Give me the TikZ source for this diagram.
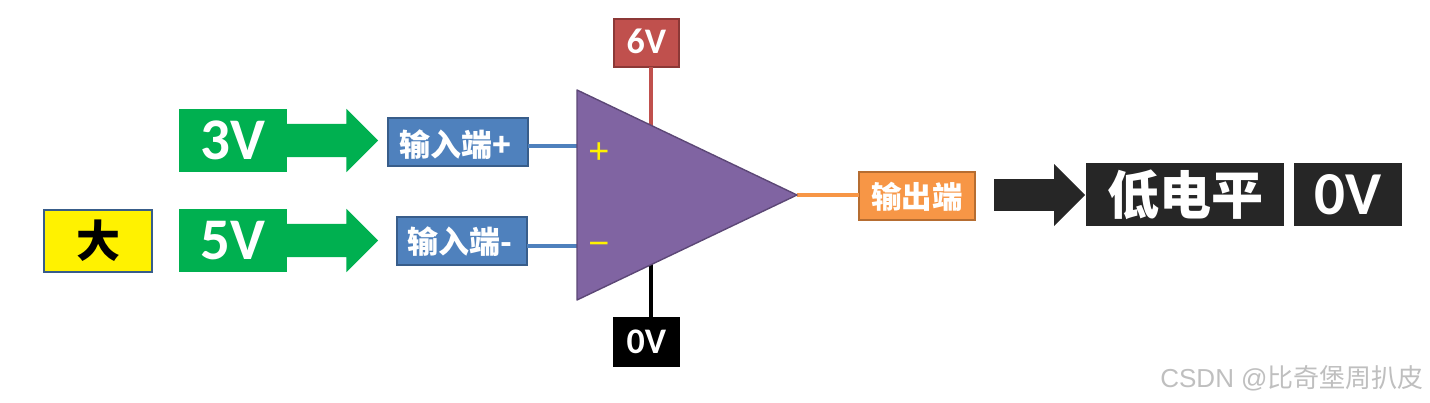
\documentclass[tikz,border=0pt]{standalone}
\usepackage{fontspec}
\setmainfont{Carlito}
\newfontfamily\cjk{Noto Sans CJK SC}
\newfontfamily\wmfont{Liberation Sans}
\usetikzlibrary{shapes.arrows,calc}
\definecolor{vgreen}{HTML}{00B050}
\definecolor{vblue}{HTML}{4F81BD}
\definecolor{vblueD}{HTML}{385D8A}
\definecolor{vred}{HTML}{C0504D}
\definecolor{vredD}{HTML}{8C3836}
\definecolor{vpurple}{HTML}{8064A2}
\definecolor{vpurpleD}{HTML}{5C4776}
\definecolor{vorange}{HTML}{F79646}
\definecolor{vorangeD}{HTML}{B66D31}
\definecolor{vdark}{HTML}{262626}
\tikzset{
  x=1pt,y=-1pt,
  box/.style={rectangle,inner sep=0pt,outer sep=0pt,align=center,text=white,font=\bfseries},
  volt/.style={box,fill=vgreen,minimum width=108pt,minimum height=63pt,font=\fontsize{59}{59}\selectfont\bfseries},
  port/.style={box,fill=vblue,draw=vblueD,line width=2pt,minimum height=48pt,font=\fontsize{31}{32}\selectfont\bfseries\cjk},
  supply/.style={box,minimum width=65pt,minimum height=48pt,line width=2pt,font=\fontsize{36}{36}\selectfont\bfseries},
  result/.style={box,fill=vdark,minimum height=63pt},
  fat/.style={single arrow,inner sep=0pt,outer sep=0pt,text width=0pt,text depth=0pt,single arrow head extend=15pt,single arrow tip angle=90,anchor=west},
  wire/.style={line width=4pt},
  sign/.style={font=\fontsize{36}{36}\selectfont\wmfont,text=yellow,inner sep=0pt},
}
\begin{document}
\begin{tikzpicture}
\useasboundingbox (0,0) rectangle (1430,403);
\coordinate (ampA) at (577,90);
\coordinate (ampB) at (577,300);
\coordinate (ampC) at (797,195);
\coordinate (ampP) at (577,146);
\coordinate (ampN) at (577,246);
\coordinate (ampT) at (651,135);
\coordinate (ampD) at (651,258);
\node[port,minimum width=140pt] (inP) at (457.5,142) {\raisebox{0pt}[29.6pt][0pt]{输入端+\kern4pt}};
\node[port,minimum width=130pt] (inN) at (461.5,241.5) {\raisebox{0pt}[24.6pt][0pt]{输入端-\kern3pt}};
\node[supply,fill=vred,draw=vredD] (vcc) at (646.5,43) {\raisebox{4pt}{6V}};
\node[supply,fill=black,draw=black] (gnd) at (646.5,342) {0V};
\node[box,fill=vorange,draw=vorangeD,line width=2pt,minimum width=116pt,minimum height=48pt,font=\fontsize{30.5}{31}\selectfont\bfseries\cjk] (out) at (917,196) {\raisebox{0pt}[25pt][0pt]{输出端}};
\draw[wire,vblue] (inP.east |- ampP) -- (ampP);
\draw[wire,vblue] (inN.east |- ampN) -- (ampN);
\draw[wire,vred] (ampT) -- (ampT |- vcc.south);
\draw[wire,black] (ampD) -- (ampD |- gnd.north);
\draw[wire,vorange] (ampC) -- (ampC -| out.west);
\draw[fill=vpurple,draw=vpurpleD,line width=1.4pt,line join=round] (ampA) -- (ampC) -- (ampB) -- cycle;
\node[sign] (plus) at (599,153) {+};
\node[sign] (minus) at (599,249) {−};
\node[box,fill=yellow,draw=vblueD,line width=2pt,minimum width=108pt,minimum height=62pt,text=black,font=\fontsize{44}{46}\selectfont\bfseries\cjk] (big) at (98,241) {大};
\node[volt] (v3) at (233,140.5) {3V};
\node[volt] (v5) at (233,240.5) {5V};
\node[fat,fill=vgreen,minimum height=92pt,text height=33pt,minimum width=63pt] (a3) at (286,140.5) {};
\node[fat,fill=vgreen,minimum height=92pt,text height=33pt,minimum width=63pt] (a5) at (286,240.5) {};
\node[fat,fill=vdark,minimum height=91pt,text height=31pt,minimum width=62pt] (a0) at (994,195) {};
\node[result,minimum width=198pt,font=\fontsize{52}{53}\selectfont\bfseries\cjk] (low) at (1185,194.5) {低电平};
\node[result,minimum width=108pt,font=\fontsize{61}{61}\selectfont\bfseries] (zero) at (1348,194.5) {0V};
\node[inner sep=0pt,text=black!25,font=\fontsize{26}{28}\selectfont] (mark) at (1292,378) {\wmfont CSDN @\cjk 比奇堡周扒皮};
\end{tikzpicture}
\end{document}
